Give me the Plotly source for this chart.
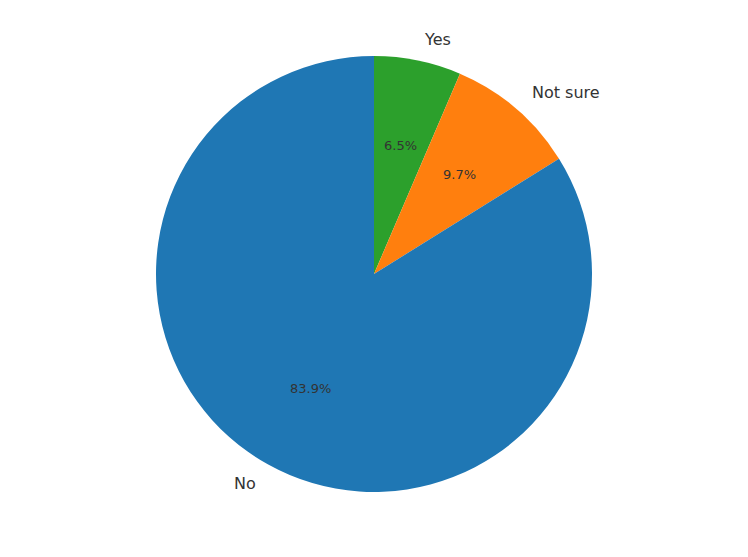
import math
import plotly.graph_objects as go

# survey answers (counts out of 31 -> 83.9 / 9.7 / 6.5 %)
labels = ["Yes", "Not sure", "No"]
counts = [2, 3, 26]
colors = ["#2ca02c", "#ff7f0e", "#1f77b4"]

W, H = 748, 557
off = 8  # page body margin in the browser
cx, cy, r = 374 - off, 274 - off, 218  # pixel centre / radius of the pie

fig = go.Figure(go.Pie(
    labels=labels,
    values=counts,
    sort=False,
    direction="clockwise",
    rotation=0,
    marker=dict(colors=colors, line=dict(width=0)),
    textinfo="none",
    hoverinfo="label+percent",
    showlegend=False,
    domain=dict(x=[(cx - r) / W, (cx + r) / W],
                y=[1 - (cy + r) / H, 1 - (cy - r) / H]),
))

# matplotlib-style labels (1.1 r) and percentages (0.6 r)
total = sum(counts)
start = 90.0
annots = []
for lab, v in zip(labels, counts):
    span = v / total * 360
    mid = math.radians(start - span / 2)
    start -= span
    lx = cx + 1.1 * r * math.cos(mid)
    ly = cy - 1.1 * r * math.sin(mid)
    annots.append(dict(x=lx / W, y=1 - ly / H, xref="paper", yref="paper",
                       text=lab, showarrow=False,
                       xanchor="left" if math.cos(mid) >= 0 else "right",
                       yanchor="middle",
                       font=dict(size=16, color="#333333")))
    px_ = cx + 0.6 * r * math.cos(mid)
    py_ = cy - 0.6 * r * math.sin(mid)
    annots.append(dict(x=px_ / W, y=1 - py_ / H, xref="paper", yref="paper",
                       text=f"{v / total * 100:.1f}%", showarrow=False,
                       xanchor="center", yanchor="middle",
                       font=dict(size=13, color="#333333")))

fig.update_layout(
    width=W, height=H,
    margin=dict(l=0, r=0, t=0, b=0),
    paper_bgcolor="white",
    font=dict(family="DejaVu Sans"),
    annotations=annots,
)

fig.write_html("out.html")
